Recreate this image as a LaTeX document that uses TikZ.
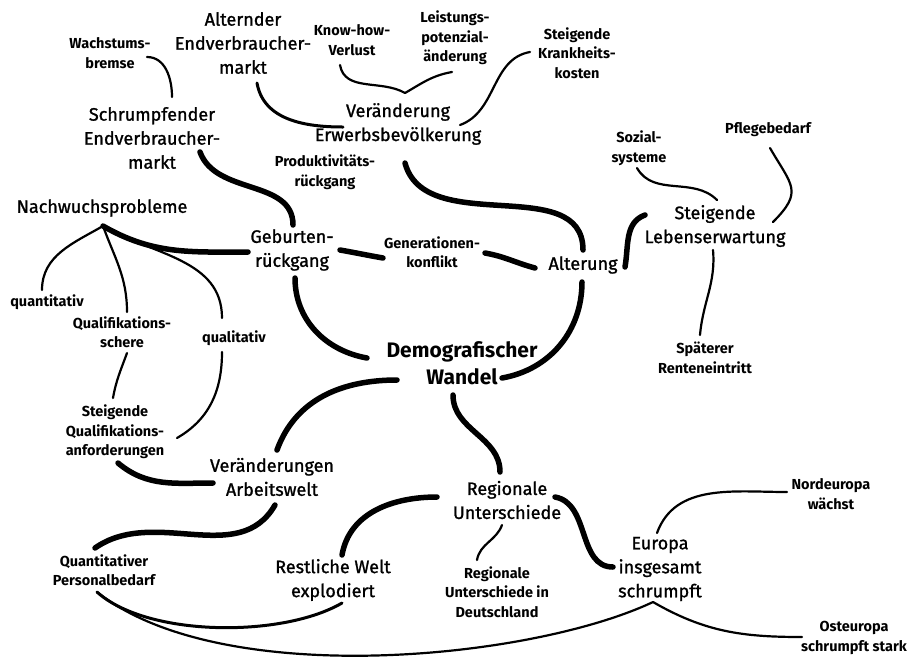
\documentclass[tikz,border=0pt]{standalone}
\usepackage{fontspec}
\setmainfont{Fira Sans}
\newfontfamily\midfont[FakeBold=1.2]{Fira Sans}
\usepackage{tikz}
\usetikzlibrary{positioning}
\tikzstyle{hub} = [align=center, inner sep=2pt, font=\fontsize{21}{27}\selectfont\bfseries]
\tikzstyle{topic} = [align=center, inner sep=2pt, font=\midfont\fontsize{18}{24}\selectfont]
\tikzstyle{leaf} = [align=center, inner sep=2pt, font=\fontsize{14.5}{19.5}\selectfont\bfseries]
\tikzstyle{strong} = [line width=5.5pt, line cap=round]
\tikzstyle{medium} = [line width=3pt, line cap=round]
\tikzstyle{weak} = [line width=2.2pt, line cap=round]

\begin{document}
\begin{tikzpicture}[x=1pt, y=-1pt]
    \useasboundingbox (0,0) rectangle (912,657);

    % centre and main branches
    \node (demo) [hub] at (462,363) {Demografischer\\Wandel};
    \node (geburt) [topic] at (292,250) {Geburten-\\rückgang};
    \node (gen) [leaf] at (432,252) {Generationen-\\konflikt};
    \node (alter) [topic] at (583,265) {Alterung};
    \node (leben) [topic] at (715,226) {Steigende\\Lebenserwartung};
    \node (sozial) [leaf] at (639,148) {Sozial-\\systeme};
    \node (pflege) [leaf] at (768,130) {Pflegebedarf};
    \node (rente) [leaf] at (705,358) {Späterer\\Renteneintritt};
    \node (erwerb) [topic] at (398,124) {Veränderung\\Erwerbsbevölkerung};
    \node (altmarkt) [topic] at (243,43) {Alternder\\Endverbraucher-\\markt};
    \node (knowhow) [leaf] at (352,40) {Know-how-\\Verlust};
    \node (leistung) [leaf] at (455,38) {Leistungs-\\potenzial-\\änderung};
    \node (krank) [leaf] at (577,53) {Steigende\\Krankheits-\\kosten};
    \node (bremse) [leaf] at (110,53) {Wachstums-\\bremse};
    \node (schrumpf) [topic] at (152,138) {Schrumpfender\\Endverbraucher-\\markt};
    \node (prod) [leaf] at (325,172) {Produktivitäts-\\rückgang};
    \node (nachwuchs) [topic] at (102,208) {Nachwuchsprobleme};
    \node (quanti) [leaf] at (47,302) {quantitativ};
    \node (schere) [leaf] at (122,332) {Qualifikations-\\schere};
    \node (quali) [leaf] at (234,338) {qualitativ};
    \node (anford) [leaf] at (115,432) {Steigende\\Qualifikations-\\anforderungen};
    \node (arbeit) [topic] at (272,477) {Veränderungen\\Arbeitswelt};
    \node (personal) [leaf] at (104,570) {Quantitativer\\Personalbedarf};
    \node (welt) [topic] at (333,580) {Restliche Welt\\explodiert};
    \node (region) [topic] at (507,500) {Regionale\\Unterschiede};
    \node (regde) [leaf] at (497,592) {Regionale\\Unterschiede in\\Deutschland};
    \node (europa) [topic] at (660,569) {Europa\\insgesamt\\schrumpft};
    \node (nord) [leaf] at (831,494) {Nordeuropa\\wächst};
    \node (ost) [leaf] at (854,638) {Osteuropa\\schrumpft stark};

    \coordinate (kjoin) at ([shift={(7,-31)}]erwerb.center);

    % thick branches
    \draw [strong] ([shift={(-95,-5)}]demo.center) to[out=170,in=-90] ([shift={(3,28)}]geburt.center);
    \draw [strong] ([shift={(40,15)}]demo.center) to[out=10,in=-90] ([shift={(-1,17)}]alter.center);
    \draw [strong] ([shift={(7,39)}]erwerb.center) to[out=-75,in=90] ([shift={(0,-15)}]alter.center);
    \draw [strong] ([shift={(48,14)}]schrumpf.center) to[out=-70,in=90] ([shift={(1,-25)}]geburt.center);
    \draw [strong] ([shift={(-44,2)}]geburt.center) to[out=180,in=-30] ([shift={(1,18)}]nachwuchs.center);
    \draw [strong] ([shift={(48,0)}]geburt.center) to[out=-10,in=170] ([shift={(-49,6)}]gen.center);
    \draw [strong] ([shift={(53,1)}]gen.center) to[out=-10,in=165] ([shift={(-48,3)}]alter.center);
    \draw [strong] ([shift={(42,2)}]alter.center) to[out=80,in=-160] ([shift={(-70,-11)}]leben.center);
    \draw [strong] ([shift={(-65,17)}]demo.center) to[out=180,in=70] ([shift={(5,-27)}]arbeit.center);
    \draw [strong] ([shift={(-9,32)}]demo.center) to[out=-90,in=90] ([shift={(-7,-28)}]region.center);
    \draw [strong] ([shift={(-70,-3)}]region.center) to[out=180,in=80] ([shift={(9,-25)}]welt.center);
    \draw [strong] ([shift={(48,-3)}]region.center) to[out=-10,in=180] ([shift={(-47,-2)}]europa.center);
    \draw [strong] ([shift={(3,28)}]arbeit.center) to[out=-120,in=35] ([shift={(-9,-22)}]personal.center);
    \draw [strong] ([shift={(3,31)}]anford.center) to[out=-40,in=180] ([shift={(-59,6)}]arbeit.center);

    % thin branches
    \draw [weak] ([shift={(1,18)}]nachwuchs.center) to[out=-150,in=90] ([shift={(-5,-12)}]quanti.center);
    \draw [weak] ([shift={(1,18)}]nachwuchs.center) to[out=-70,in=90] ([shift={(5,-20)}]schere.center);
    \draw [weak] ([shift={(1,18)}]nachwuchs.center) to[out=-30,in=90] ([shift={(-12,-20)}]quali.center);
    \draw [weak] ([shift={(5,21)}]schere.center) to[out=-110,in=80] ([shift={(-2,-34)}]anford.center);
    \draw [weak] ([shift={(-12,14)}]quali.center) to[out=-90,in=30] ([shift={(62,6)}]anford.center);
    \draw [weak] ([shift={(37,4)}]bremse.center) to[out=0,in=90] ([shift={(20,-41)}]schrumpf.center);
    \draw [medium] ([shift={(14,40)}]altmarkt.center) to[out=-80,in=180] ([shift={(-55,3)}]erwerb.center);
    \draw [weak] ([shift={(-12,25)}]knowhow.center) to[out=-80,in=150] (kjoin);
    \draw [weak] ([shift={(-3,34)}]leistung.center) to[out=190,in=30] (kjoin);
    \draw [weak] ([shift={(-47,-1)}]krank.center) to[out=190,in=20] ([shift={(62,1)}]erwerb.center);
    \draw [weak] ([shift={(-2,20)}]sozial.center) to[out=-60,in=135] ([shift={(2,-26)}]leben.center);
    \draw [weak] ([shift={(2,18)}]pflege.center) to[out=-60,in=45,looseness=1.5] ([shift={(58,-4)}]leben.center);
    \draw [weak] ([shift={(-2,24)}]leben.center) to[out=-85,in=85] ([shift={(-5,-23)}]rente.center);
    \draw [medium] ([shift={(-7,22)}]personal.center) .. controls +(50,45) and +(-60,35) .. ([shift={(9,23)}]welt.center);
    \draw [weak] ([shift={(-7,22)}]personal.center) .. controls +(123,98) and +(-123,58) .. ([shift={(-7,33)}]europa.center);
    \draw [weak] ([shift={(-7,33)}]europa.center) to[out=-30,in=180] ([shift={(-52,-1)}]ost.center);
    \draw [weak] ([shift={(-3,-36)}]europa.center) to[out=70,in=180] ([shift={(-44,-2)}]nord.center);
    \draw [weak] ([shift={(-5,25)}]region.center) to[out=-110,in=80] ([shift={(-20,-32)}]regde.center);
\end{tikzpicture}
\end{document}
